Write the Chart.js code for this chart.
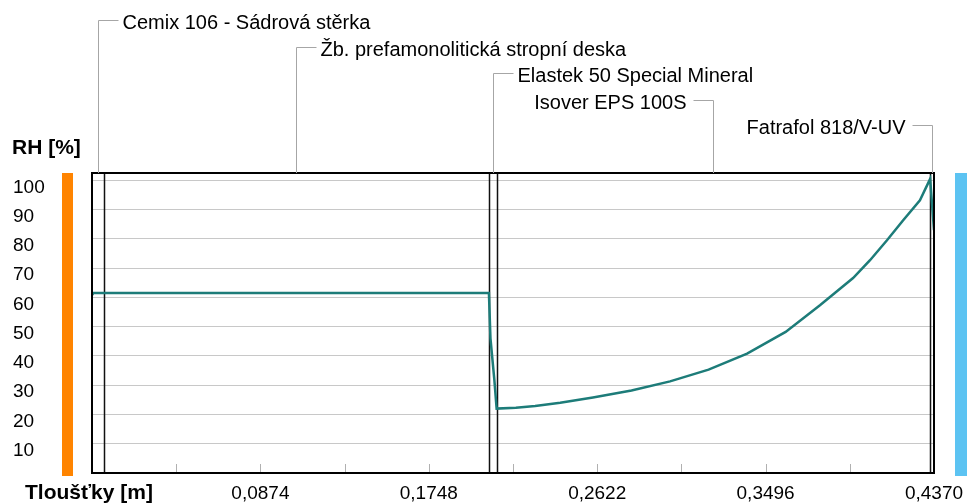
<!DOCTYPE html>
<html>
<head>
<meta charset="utf-8">
<script src="https://cdn.jsdelivr.net/npm/chart.js@4/dist/chart.umd.min.js"></script>
<style>
	body { margin: 0; background: #fff; }
	canvas { display: block; }
</style>
</head>
<body>
<canvas id="chart" width="971" height="504"></canvas>
<script>
const layerNames = [
	'Cemix 106 - Sádrová stěrka',
	'Žb. prefamonolitická stropní deska',
	'Elastek 50 Special Mineral',
	'Isover EPS 100S',
	'Fatrafol 818/V-UV'
];
const layerBounds = [0, 0.006, 0.206, 0.21, 0.435, 0.437];

// RH profile through the construction
const thickness = [0, 0.0008, 0.006, 0.206, 0.2068, 0.2088, 0.21, 0.22, 0.23, 0.243, 0.26, 0.28, 0.3, 0.32, 0.34, 0.36, 0.3778, 0.395, 0.4038, 0.4126, 0.4209, 0.4297, 0.435, 0.437];
const rh = [60.8, 61.5, 61.5, 61.5, 46, 32, 22, 22.3, 22.9, 24, 25.8, 28.2, 31.3, 35.3, 40.8, 48.2, 57.3, 66.6, 72.7, 79.5, 86.3, 93.2, 100.5, 83];

const xTickValues = [0, 0.0437, 0.0874, 0.1311, 0.1748, 0.2185, 0.2622, 0.3059, 0.3496, 0.3933, 0.437];
const xTickLabels = ['', '', '0,0874', '', '0,1748', '', '0,2622', '', '0,3496', '', '0,4370'];
const yTickValues = [10, 20, 30, 40, 50, 60, 70, 80, 90, 100];

const FONT = 'Liberation Sans';

const decor = {
	id: 'decor',
	beforeDatasetsDraw(chart) {
		const { ctx, chartArea: a, scales: { x } } = chart;
		ctx.save();
		// layer boundaries
		ctx.strokeStyle = '#111';
		ctx.lineWidth = 1.5;
		layerBounds.slice(1, -1).forEach(b => {
			const px = Math.round(x.getPixelForValue(b)) + 0.5;
			ctx.beginPath();
			ctx.moveTo(px, a.top);
			ctx.lineTo(px, a.bottom);
			ctx.stroke();
		});
		// small ticks at the bottom, inside the plot
		ctx.strokeStyle = '#b0b0b0';
		ctx.lineWidth = 1;
		xTickValues.forEach(v => {
			const px = Math.round(x.getPixelForValue(v)) + 0.5;
			ctx.beginPath();
			ctx.moveTo(px, a.bottom);
			ctx.lineTo(px, a.bottom - 9);
			ctx.stroke();
		});
		ctx.restore();
	},
	afterDraw(chart) {
		const { ctx, chartArea: a, scales: { x } } = chart;
		ctx.save();
		// frame
		ctx.strokeStyle = '#000';
		ctx.lineWidth = 2;
		ctx.strokeRect(a.left, a.top, a.right - a.left, a.bottom - a.top);

		// interior / exterior bars
		ctx.fillStyle = '#ff8400';
		ctx.fillRect(a.left - 30, a.top, 11, a.bottom - a.top + 3);
		ctx.fillStyle = '#5cc3f2';
		ctx.fillRect(a.right + 21, a.top, 12, a.bottom - a.top + 3);

		// layer names with leader lines
		const levels = [20, 47, 73, 100, 125];
		ctx.font = '20px ' + FONT;
		ctx.textBaseline = 'middle';
		ctx.strokeStyle = '#a6a6a6';
		ctx.lineWidth = 1;
		layerNames.forEach((name, i) => {
			const mid = Math.round(x.getPixelForValue((layerBounds[i] + layerBounds[i + 1]) / 2)) + 0.5;
			const y = levels[i] + 0.5;
			const right = i < 3;
			ctx.beginPath();
			ctx.moveTo(mid, a.top);
			ctx.lineTo(mid, y);
			ctx.lineTo(right ? mid + 20 : mid - 20, y);
			ctx.stroke();
			ctx.fillStyle = '#000';
			ctx.textAlign = right ? 'left' : 'right';
			ctx.fillText(name, right ? mid + 24 : mid - 27, y + 3);
		});

		// axis titles
		ctx.font = 'bold 21px ' + FONT;
		ctx.textAlign = 'left';
		ctx.fillText('RH [%]', 12, 148);
		ctx.fillText('Tloušťky [m]', 25, 493);
		ctx.restore();
	}
};

new Chart(document.getElementById('chart'), {
	type: 'line',
	data: {
		datasets: [
			{
				data: thickness.map((t, i) => ({ x: t, y: rh[i] })),
				borderColor: '#1d7c79',
				borderWidth: 2.5,
				pointRadius: 0,
				tension: 0
			}
		]
	},
	options: {
		responsive: false,
		animation: false,
		layout: { padding: { left: 13, right: 37, top: 173, bottom: 0 } },
		plugins: { legend: { display: false }, tooltip: { enabled: false } },
		scales: {
			x: {
				type: 'linear',
				min: 0,
				max: 0.437,
				afterBuildTicks: s => {
					s.ticks = xTickValues.map(v => ({ value: v }));
				},
				afterFit: s => {
					s.height = 31;
				},
				grid: { display: false },
				border: { display: false },
				ticks: {
					autoSkip: false,
					maxRotation: 0,
					padding: 1,
					color: '#000',
					font: { family: FONT, size: 19 },
					callback: (v, i) => xTickLabels[i]
				}
			},
			y: {
				min: 0,
				max: 102.5,
				afterBuildTicks: s => {
					s.ticks = yTickValues.map(v => ({ value: v }));
				},
				afterFit: s => {
					s.width = 79;
				},
				grid: { color: '#c8c8c8', drawTicks: false },
				border: { display: false },
				ticks: {
					crossAlign: 'far',
					padding: 0,
					labelOffset: 7,
					color: '#000',
					font: { family: FONT, size: 19 }
				}
			}
		}
	},
	plugins: [decor]
});
</script>
</body>
</html>
